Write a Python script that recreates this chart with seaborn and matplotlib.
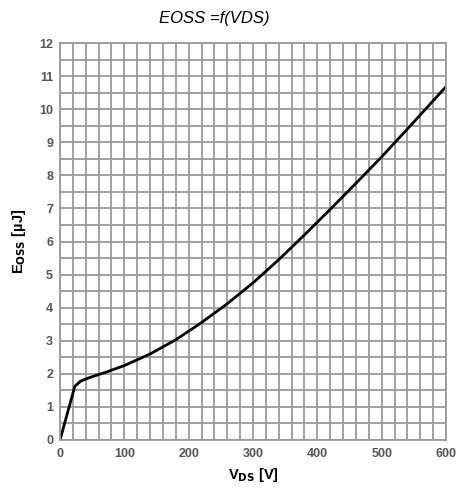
import matplotlib
matplotlib.use("Agg")
import matplotlib.pyplot as plt
import seaborn as sns
import numpy as np
import pandas as pd

# Data
vds = [0, 23, 32, 45, 70, 100, 140, 180, 220, 260, 300, 340, 380, 420, 460, 500, 540, 600]
eoss = [0, 1.62, 1.78, 1.88, 2.04, 2.25, 2.60, 3.03, 3.55, 4.12, 4.75, 5.45, 6.20, 6.97, 7.76, 8.56, 9.40, 10.68]
x_ticks = [0, 100, 200, 300, 400, 500, 600]
y_ticks = list(range(0, 13))

sns.set_theme(style="white")
plt.rcParams['font.family'] = ['Liberation Sans', 'DejaVu Sans']

df = pd.DataFrame({"VDS": vds, "EOSS": eoss})

fig = plt.figure(figsize=(4.70, 4.91), dpi=100)
ax = fig.add_axes([60/470, 51/491, 386/470, 397/491])

grid_c = "#9a9a9a"
ax.set_xlim(0, 600)
ax.set_ylim(0, 12)
ax.set_xticks(np.arange(0, 601, 20), minor=True)
ax.set_yticks(np.arange(0, 12.01, 0.5), minor=True)
ax.set_xticks(x_ticks)
ax.set_yticks(y_ticks)
ax.grid(which="both", color=grid_c, linewidth=1.3)
ax.set_axisbelow(True)
for s in ax.spines.values():
    s.set_color(grid_c)
    s.set_linewidth(1.3)

sns.lineplot(data=df, x="VDS", y="EOSS", ax=ax, color="black", linewidth=2.0)
ax.lines[-1].set_solid_joinstyle("round")

ax.tick_params(which="both", length=0)
ax.tick_params(axis="x", pad=6)
ax.tick_params(axis="y", pad=5)
for lab in ax.get_xticklabels() + ax.get_yticklabels():
    lab.set_fontweight("bold")
    lab.set_color("#555555")
    lab.set_fontsize(9)

ax.set_xlabel(r"V$_{\mathbf{DS}}$ [V]", fontsize=10.5, fontweight="bold", color="black", labelpad=4)
ax.set_ylabel(r"E$_{\mathbf{OSS}}$ [µJ]", fontsize=10.5, fontweight="bold", color="black", labelpad=8)

fig.text(214/470, 1 - 18/491, "EOSS =f(VDS)", ha="center", va="center",
         fontsize=12, fontstyle="italic", color="black")

fig.savefig("out.png", dpi=100)
